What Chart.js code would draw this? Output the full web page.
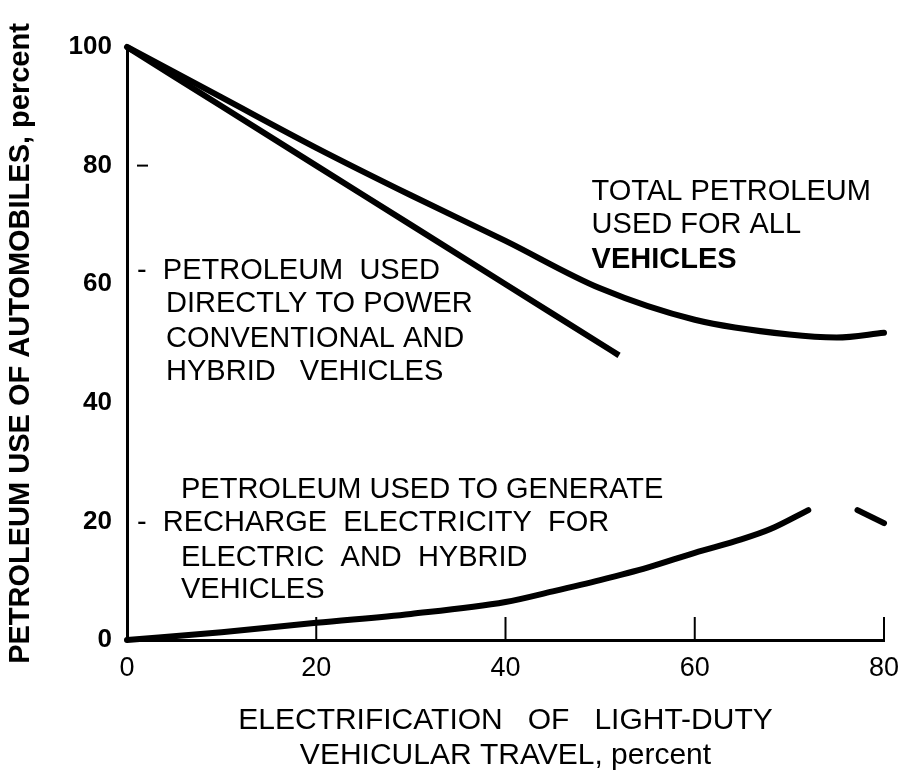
<!DOCTYPE html>
<html>
<head>
<meta charset="utf-8">
<title>Petroleum use vs electrification</title>
<script src="https://cdn.jsdelivr.net/npm/chart.js@4/dist/chart.umd.min.js"></script>
<style>
body{margin:0;background:#fff;}
canvas{display:block;}
</style>
</head>
<body>
<canvas id="chart" width="904" height="773"></canvas>
<script>

// electrification of light-duty travel, percent
const totalX = [0, 10, 20, 30, 40, 50, 60, 70, 75, 80];
const totalY = [100, 91.5, 83, 75, 67.3, 59.3, 54, 51.5, 51, 51.8];

const directX = [0, 10, 20, 30, 40, 50, 52];
const directY = [100, 90, 80, 70, 60, 50, 48];

// the top of this curve is blank in the original, hence the null
const rechargeX = [0, 10, 20, 30, 40, 45, 50, 55, 60, 65, 68, 72, 74.5, 77.2, 80];
const rechargeY = [0, 1.3, 2.9, 4.4, 6.4, 8.2, 10.1, 12.2, 14.7, 17, 18.7, 21.9, null, 21.9, 19.7];

const xTickMarks = [20, 40, 60, 80];
const yTickMarks = [80];

const xTitle = ["ELECTRIFICATION   OF   LIGHT-DUTY", "VEHICULAR TRAVEL, percent"];
const yTitle = "PETROLEUM USE OF AUTOMOBILES, percent";

const notes = [
  {text:"TOTAL PETROLEUM", x:49.1, y:75.5},
  {text:"USED FOR ALL", x:49.1, y:70.0},
  {text:"VEHICLES", x:49.1, y:64.1, bold:true},

  {text:"-  PETROLEUM  USED", x:1.06, y:62.2},
  {text:"DIRECTLY TO POWER", x:4.13, y:56.7},
  {text:"CONVENTIONAL AND", x:4.13, y:50.8},
  {text:"HYBRID   VEHICLES", x:4.13, y:45.2},

  {text:"PETROLEUM USED TO GENERATE", x:5.71, y:25.3},
  {text:"-  RECHARGE  ELECTRICITY  FOR", x:1.06, y:19.7},
  {text:"ELECTRIC  AND  HYBRID", x:5.71, y:13.8},
  {text:"VEHICLES", x:5.71, y:8.4}
];

const fontFam = "'Liberation Sans', Arial, Helvetica, sans-serif";

function pts(xs, ys){
  return xs.map((v, i) => ({x: v, y: ys[i]}));
}

function curve(xs, ys, cap){
  return {
    data: pts(xs, ys),
    borderColor: "#000",
    borderWidth: 6,
    borderCapStyle: cap,
    borderJoinStyle: "round",
    pointRadius: 0,
    cubicInterpolationMode: "monotone",
    spanGaps: false,
    clip: false
  };
}

const marks = {
  id: "marks",
  afterDatasetsDraw(chart){
    const ctx = chart.ctx;
    const x = chart.scales.x;
    const y = chart.scales.y;

    ctx.save();
    ctx.strokeStyle = "#000";
    ctx.lineWidth = 2;

    xTickMarks.forEach(v => {
      const px = x.getPixelForValue(v);
      ctx.beginPath();
      ctx.moveTo(px, y.bottom);
      ctx.lineTo(px, y.bottom - 23);
      ctx.stroke();
    });

    yTickMarks.forEach(v => {
      const py = y.getPixelForValue(v);
      ctx.beginPath();
      ctx.moveTo(x.left + 10, py);
      ctx.lineTo(x.left + 21, py);
      ctx.stroke();
    });

    ctx.fillStyle = "#000";
    ctx.textBaseline = "middle";
    ctx.textAlign = "left";
    notes.forEach(n => {
      ctx.font = (n.bold ? "bold " : "") + "29px " + fontFam;
      ctx.fillText(n.text, x.getPixelForValue(n.x), y.getPixelForValue(n.y));
    });

    ctx.restore();
  }
};

const ctx =
document
.getElementById("chart");

const chart =
new Chart(ctx, {
  type: "line",
  data: {
    datasets: [
      curve(totalX, totalY, "round"),
      curve(directX, directY, "butt"),
      curve(rechargeX, rechargeY, "round")
    ]
  },
  options: {
    responsive: false,
    animation: false,
    layout: {padding: {top: 47, right: 20, bottom: 0, left: 0}},
    plugins: {
      legend: {display: false},
      tooltip: {enabled: false}
    },
    scales: {
      x: {
        type: "linear",
        min: 0,
        max: 80,
        grid: {display: false, drawTicks: false},
        border: {display: true, color: "#000", width: 3},
        ticks: {
          stepSize: 20,
          color: "#000",
          padding: 12,
          maxRotation: 0,
          font: {family: fontFam, size: 27}
        },
        title: {
          display: true,
          text: xTitle,
          color: "#000",
          padding: {top: 0, bottom: 0},
          font: {family: fontFam, size: 30, lineHeight: 1.17}
        },
        afterFit(s){
          s.height = 133;
          s.paddingLeft = 0;
          s.paddingRight = 0;
        }
      },
      y: {
        type: "linear",
        min: 0,
        max: 100,
        grid: {display: false, drawTicks: false},
        border: {display: true, color: "#000", width: 3},
        ticks: {
          stepSize: 20,
          color: "#000",
          padding: 15,
          font: {family: fontFam, size: 26, weight: "bold"}
        },
        title: {
          display: true,
          text: yTitle,
          color: "#000",
          padding: {top: 4, bottom: 0},
          font: {family: fontFam, size: 29, weight: "bold", lineHeight: 1.2}
        },
        afterFit(s){
          s.width = 127;
          s.paddingTop = 0;
          s.paddingBottom = 0;
        }
      }
    }
  },
  plugins: [marks]
});

</script>
</body>
</html>
